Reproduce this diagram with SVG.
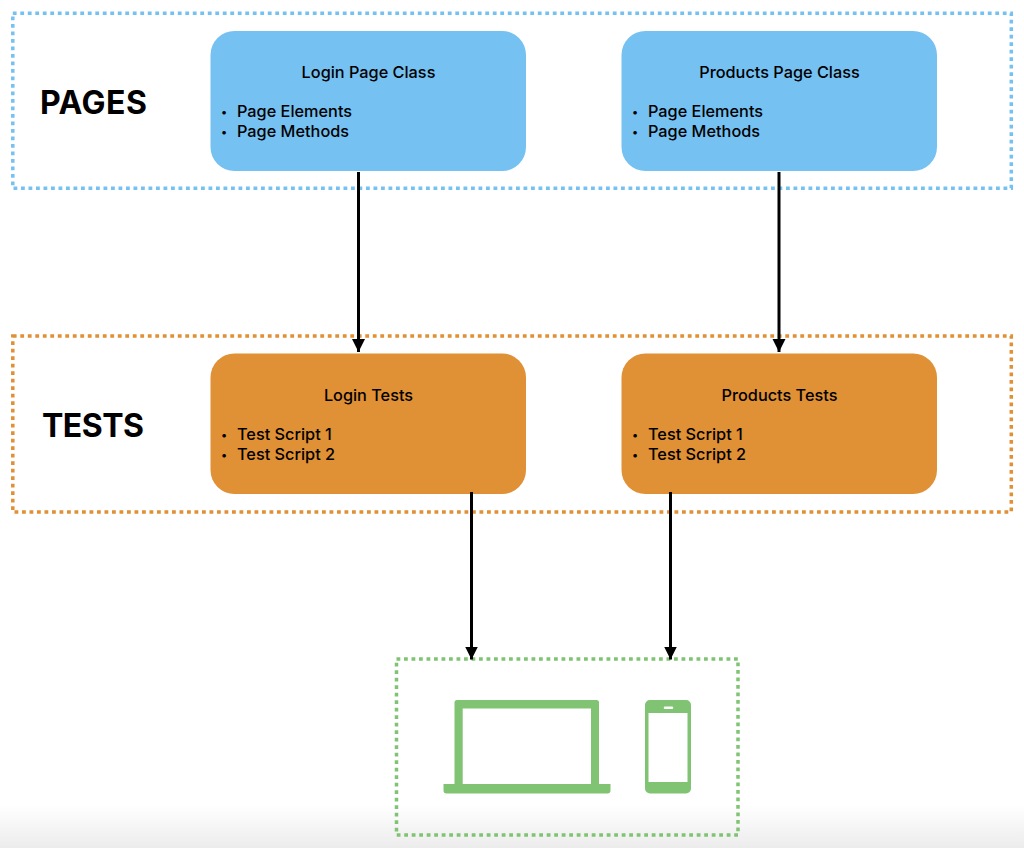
<svg xmlns="http://www.w3.org/2000/svg" width="1024" height="848" viewBox="0 0 1024 848">
<style>
text{font-family:Inter,"Liberation Sans",sans-serif;font-weight:500;font-size:16.3px;fill:#000}
.h{font-size:32px;font-weight:700}
.m{text-anchor:middle}
.u{font-size:11.5px}
.f{fill:none;stroke-width:3.5;stroke-dasharray:3.8 3.7}
.b{fill:#75c1f2}.o{fill:#e09035}.g{fill:#80c473}
.c{stroke:#000;stroke-width:3;fill:none;marker-end:url(#a)}
</style>
<defs>
<marker id="a" markerUnits="userSpaceOnUse" markerWidth="13" markerHeight="14" refX="13" refY="6.500" orient="auto"><path d="M0 0L13 6.500L0 13z" fill="#000"/></marker>
<linearGradient id="s" x1="0" y1="0" x2="0" y2="1"><stop offset="0" stop-color="#fff"/><stop offset="1" stop-color="#ececec"/></linearGradient>
</defs>
<rect width="1024" height="848" fill="#fff"/>
<rect y="805" width="1024" height="43" fill="url(#s)"/>
<g id="pages-frame"><rect class="f" x="12.800" y="13.300" width="998.500" height="175" stroke="#75c1f2"/><text class="h" x="40" y="114" textLength="107">PAGES</text></g>
<g id="tests-frame"><rect class="f" x="12.800" y="336" width="998.500" height="176" stroke="#e09035"/><text class="h" x="42" y="437" textLength="102">TESTS</text></g>
<g id="devices-frame"><rect class="f" x="396.500" y="659" width="341.500" height="176" stroke="#80c473"/></g>
<g id="login-page"><rect class="b" x="210.500" y="31" width="315.500" height="140" rx="24"/><text class="m" x="368.500" y="77.500">Login Page Class</text><text class="u" x="221" y="116">•</text><text x="237" y="117">Page Elements</text><text class="u" x="221" y="136">•</text><text x="237" y="137">Page Methods</text></g>
<g id="products-page"><rect class="b" x="621.500" y="31" width="315.500" height="140" rx="24"/><text class="m" x="779.500" y="77.500">Products Page Class</text><text class="u" x="632" y="116">•</text><text x="648" y="117">Page Elements</text><text class="u" x="632" y="136">•</text><text x="648" y="137">Page Methods</text></g>
<g id="login-tests"><rect class="o" x="210.500" y="353.500" width="315.500" height="140.500" rx="24"/><text class="m" x="368.500" y="400.500">Login Tests</text><text class="u" x="221" y="439">•</text><text x="237" y="440">Test Script 1</text><text class="u" x="221" y="459">•</text><text x="237" y="460">Test Script 2</text></g>
<g id="products-tests"><rect class="o" x="621.500" y="353.500" width="315.500" height="140.500" rx="24"/><text class="m" x="779.500" y="400.500">Products Tests</text><text class="u" x="632" y="439">•</text><text x="648" y="440">Test Script 1</text><text class="u" x="632" y="459">•</text><text x="648" y="460">Test Script 2</text></g>
<g id="laptop"><path class="g" fill-rule="evenodd" d="M457 700H596.500a2.500 2.500 0 0 1 2.500 2.500V784H610.500V790.500a3 3 0 0 1-3 3H446.500a3 3 0 0 1-3-3V784H454.500V702.500a2.500 2.500 0 0 1 2.500-2.500zM462.700 708.500V784H591V708.500z"/></g>
<g id="phone"><path class="g" fill-rule="evenodd" d="M650 700H686a5 5 0 0 1 5 5V788.500a5 5 0 0 1-5 5H650a5 5 0 0 1-5-5V705a5 5 0 0 1 5-5zM648.500 713V782H687.500V713zM665 706.500a1.200 1.200 0 0 0 0 2.500H672a1.200 1.200 0 0 0 0-2.500z"/></g>
<g id="connectors">
<path class="c" d="M358.500 172V352"/>
<path class="c" d="M779 172V352"/>
<path class="c" d="M471.500 492V659.500"/>
<path class="c" d="M670.500 492V659.500"/>
</g>
</svg>
